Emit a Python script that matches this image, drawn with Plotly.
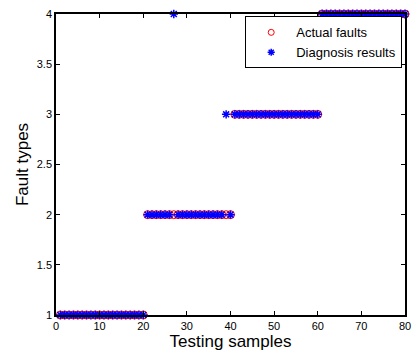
import plotly.graph_objects as go

samples = list(range(1, 81))
actual = [1]*20 + [2]*20 + [3]*20 + [4]*20
diagnosis = [1]*20 + [2]*6 + [4] + [2]*11 + [3] + [2] + [3]*20 + [4]*20

x_ticks = [0, 10, 20, 30, 40, 50, 60, 70, 80]
y_ticks = [1, 1.5, 2, 2.5, 3, 3.5, 4]

FONT = "Liberation Sans, Arial"

fig = go.Figure()
fig.add_trace(go.Scatter(
    x=samples, y=actual, mode="markers", name="Actual faults", showlegend=False,
    marker=dict(symbol="circle-open", size=8, color="red", line=dict(width=1, color="red")),
    cliponaxis=False))
fig.add_trace(go.Scatter(
    x=samples, y=diagnosis, mode="markers", name="Diagnosis results", showlegend=False,
    marker=dict(symbol="asterisk-open", size=7, color="blue", line=dict(width=1.5, color="blue")),
    cliponaxis=False))
# legend entries (smaller symbols, as in the reference)
fig.add_trace(go.Scatter(
    x=[None], y=[None], mode="markers", name="Actual faults",
    marker=dict(symbol="circle-open", size=6, color="red", line=dict(width=1, color="red"))))
fig.add_trace(go.Scatter(
    x=[None], y=[None], mode="markers", name="Diagnosis results",
    marker=dict(symbol="asterisk-open", size=6, color="blue", line=dict(width=1.5, color="blue"))))

axis_common = dict(showline=True, linecolor="black", linewidth=1.5, mirror="ticks",
                   ticks="inside", ticklen=4, tickcolor="black", showgrid=False,
                   zeroline=False, tickfont=dict(family=FONT, size=11, color="black"))

fig.update_xaxes(range=[0, 80], tickvals=x_ticks, ticktext=[str(v) for v in x_ticks],
                 title=dict(text="Testing samples", font=dict(family=FONT, size=17, color="black"), standoff=1),
                 **axis_common)
fig.update_yaxes(range=[1, 4], tickvals=y_ticks, ticktext=[("%g" % v) for v in y_ticks],
                 title=dict(text="Fault types", font=dict(family=FONT, size=17, color="black"), standoff=4),
                 **axis_common)

fig.update_layout(
    width=419, height=355,
    margin=dict(l=56, r=8, t=11, b=40),
    paper_bgcolor="white", plot_bgcolor="white",
    showlegend=True,
    legend=dict(x=0.992, y=0.992, xanchor="right", yanchor="top",
                bordercolor="black", borderwidth=1, bgcolor="white",
                font=dict(family=FONT, size=13, color="black"),
                tracegroupgap=0, itemsizing="trace", itemwidth=40),
)

fig.write_html("out.html")
